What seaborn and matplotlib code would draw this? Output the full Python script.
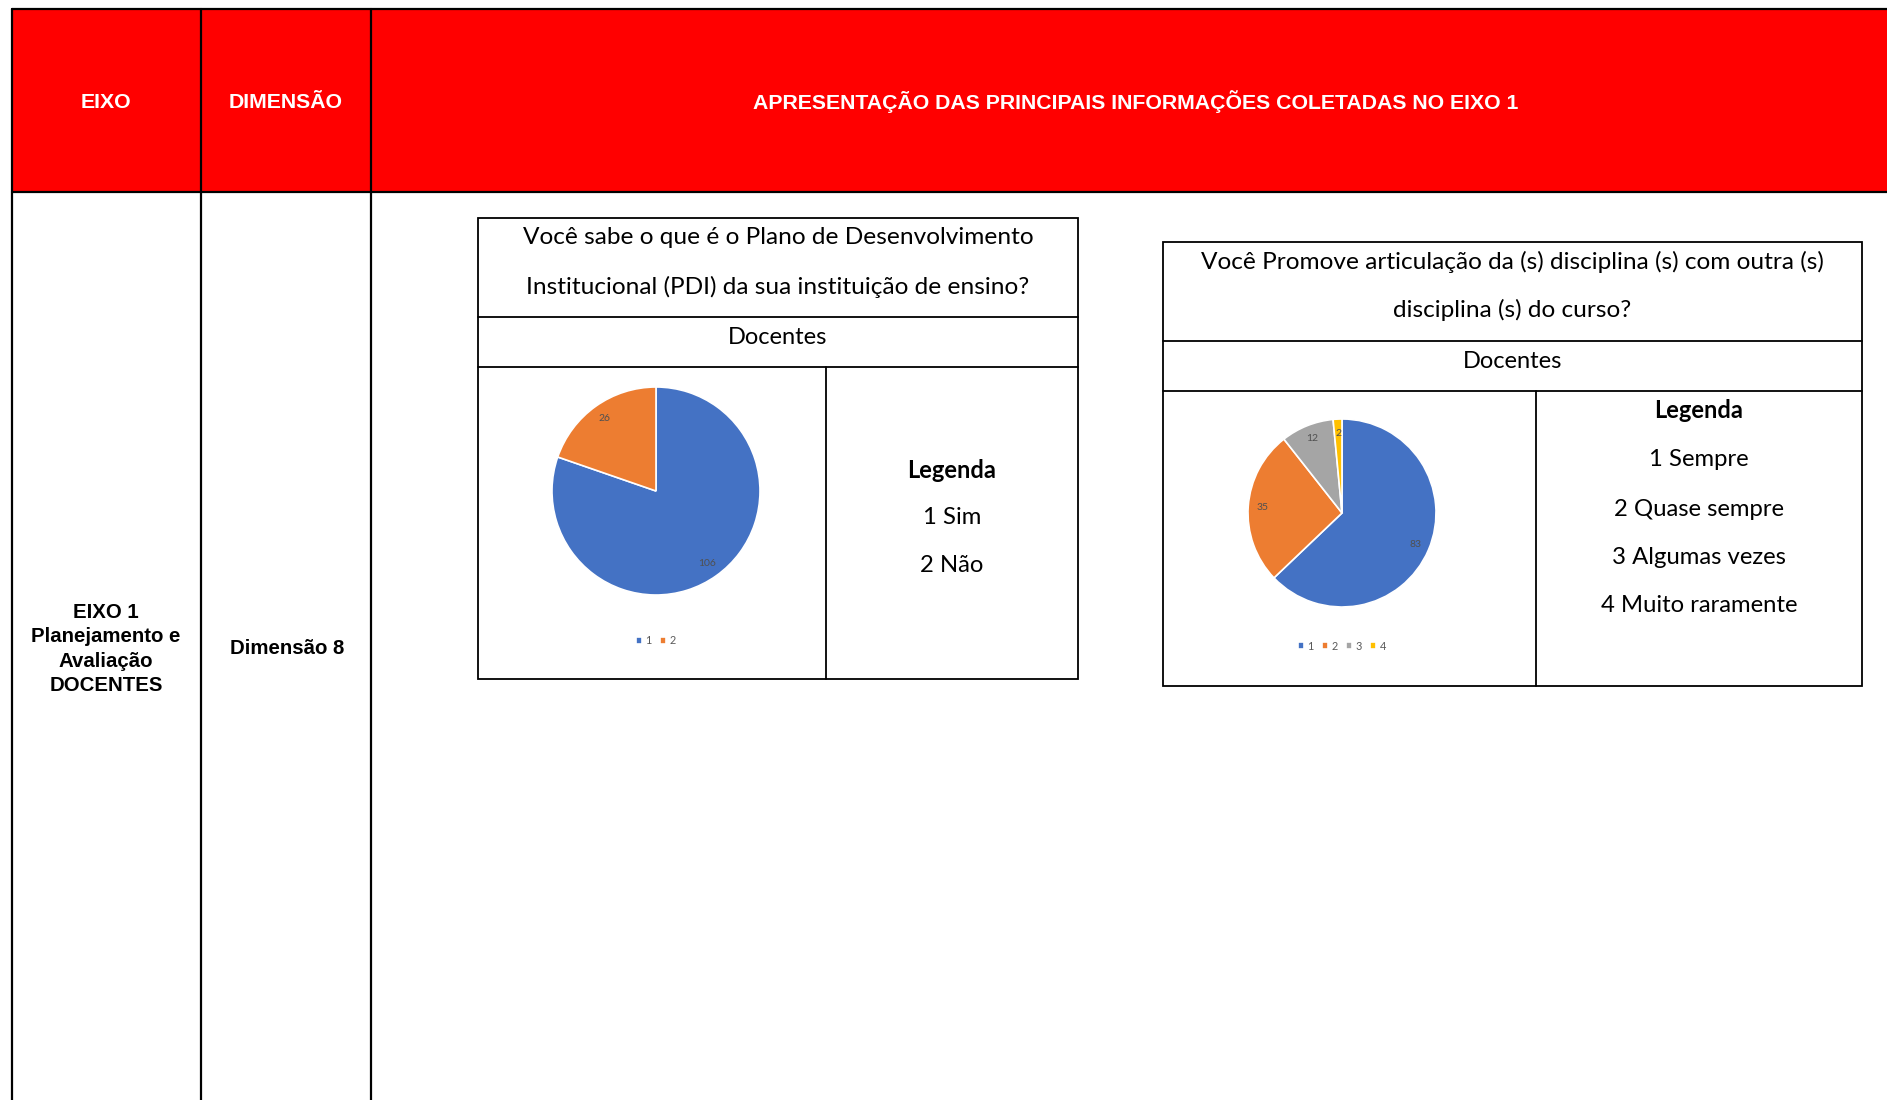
import matplotlib
matplotlib.use("Agg")
import matplotlib.pyplot as plt
import seaborn as sns
from matplotlib.patches import Rectangle

# header / left column text
header_labels = ["EIXO", "DIMENSÃO", "APRESENTAÇÃO DAS PRINCIPAIS INFORMAÇÕES COLETADAS NO EIXO 1"]
eixo_text = "EIXO 1\nPlanejamento e\nAvaliação\nDOCENTES"
dimensao_text = "Dimensão 8"

# question 1 (PDI)
q1_title = ["Você sabe o que é o Plano de Desenvolvimento",
            "Institucional (PDI) da sua instituição de ensino?"]
q1_categories = ["1", "2"]
q1_values = [106, 26]
q1_legend = ["1 Sim", "2 Não"]

# question 2 (articulação)
q2_title = ["Você Promove articulação da (s) disciplina (s) com outra (s)",
            "disciplina (s) do curso?"]
q2_categories = ["1", "2", "3", "4"]
q2_values = [83, 35, 12, 2]
q2_legend = ["1 Sempre", "2 Quase sempre", "3 Algumas vezes", "4 Muito raramente"]

group_label = "Docentes"

sns.set_theme(style="white")
plt.rcParams['font.family'] = ['Lato', 'DejaVu Sans']
office = sns.color_palette(["#4472C4", "#ED7D31", "#A5A5A5", "#FFC000"])

W, H = 1887, 1100
fig = plt.figure(figsize=(W / 100, H / 100), dpi=100)
bg = fig.add_axes([0, 0, 1, 1])
bg.set_xlim(0, W)
bg.set_ylim(H, 0)
bg.axis("off")

# table frame
bg.add_patch(Rectangle((12, 9), W - 12, 183, facecolor="#FF0000", edgecolor="none"))
lw = 1.6
bg.plot([12, W], [9, 9], color="black", lw=lw)
bg.plot([12, W], [192, 192], color="black", lw=lw)
for x in [12, 201, 371]:
    bg.plot([x, x], [9, H], color="black", lw=lw)

hdr_font = ["Liberation Sans", "DejaVu Sans"]
bg.text(106, 102, header_labels[0], color="white", fontsize=15.3, fontweight="bold",
        ha="center", va="center", family=hdr_font)
bg.text(286, 102, header_labels[1], color="white", fontsize=15.3, fontweight="bold",
        ha="center", va="center", family=hdr_font)
bg.text(1136, 102, header_labels[2], color="white", fontsize=15.3, fontweight="bold",
        ha="center", va="center", family=hdr_font)
bg.text(106, 649, eixo_text, color="black", fontsize=14.7, fontweight="bold",
        ha="center", va="center", family=hdr_font, linespacing=1.36)
bg.text(287, 649, dimensao_text, color="black", fontsize=14.7, fontweight="bold",
        ha="center", va="center", family=hdr_font)


def draw_box(left, right, top, title_bottom, group_bottom, bottom, divider,
             title_lines, title_ys, group_y, legend_lines, legend_ys):
    blw = 1.3
    bg.add_patch(Rectangle((left, top), right - left, bottom - top,
                           facecolor="none", edgecolor="black", lw=blw))
    bg.plot([left, right], [title_bottom, title_bottom], color="black", lw=blw)
    bg.plot([left, right], [group_bottom, group_bottom], color="black", lw=blw)
    bg.plot([divider, divider], [group_bottom, bottom], color="black", lw=blw)
    cx = (left + right) / 2
    for line, y in zip(title_lines, title_ys):
        bg.text(cx, y + 2, line, fontsize=17.6, ha="center", va="center", color="black")
    bg.text(cx, group_y + 2, group_label, fontsize=17, ha="center", va="center", color="black")
    lx = (divider + right) / 2
    bg.text(lx, legend_ys[0] + 2, "Legenda", fontsize=17, fontweight="bold",
            ha="center", va="center", color="black")
    for line, y in zip(legend_lines, legend_ys[1:]):
        bg.text(lx, y + 2, line, fontsize=17.2, ha="center", va="center", color="black")


def draw_pie(cx, cy, r, values, categories, legend_y):
    ax = fig.add_axes([(cx - r) / W, 1 - (cy + r) / H, 2 * r / W, 2 * r / H])
    total = sum(values)
    ax.pie(values, colors=office[:len(values)], startangle=90, counterclock=False,
           wedgeprops=dict(edgecolor="white", linewidth=1.2),
           autopct=lambda p: f"{round(p * total / 100)}", pctdistance=0.85,
           textprops=dict(fontsize=7.5, color="#505050"))
    ax.set_xlim(-1, 1)
    ax.set_ylim(-1, 1)
    ax.set_aspect("auto")
    leg = ax.legend(categories, loc="center", bbox_to_anchor=(0.5, 0.5 - (legend_y - cy) / (2 * r)),
                    ncol=len(categories), frameon=False, fontsize=7.8, handlelength=0.55,
                    handleheight=0.55, handletextpad=0.3, columnspacing=0.8)
    for t in leg.get_texts():
        t.set_color("#595959")


draw_box(478, 1078, 218, 317, 367, 679, 826, q1_title, [236, 285], 336,
         q1_legend, [468, 516, 564])
draw_pie(656, 491, 104, q1_values, q1_categories, 641)

draw_box(1163, 1862, 242, 341, 391, 686, 1536, q2_title, [260, 308], 359,
         q2_legend, [408, 457, 507, 556, 604])
draw_pie(1342, 513, 94, q2_values, q2_categories, 646)

fig.savefig("out.png", dpi=100)
